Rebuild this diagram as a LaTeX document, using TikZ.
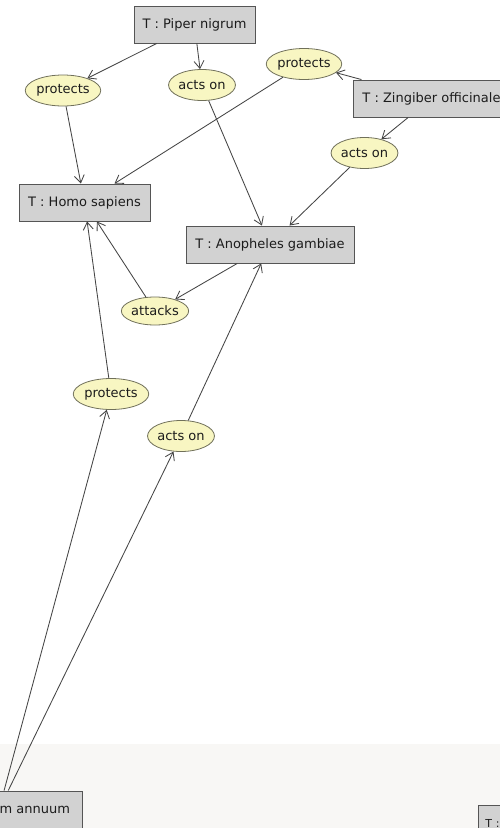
\documentclass[tikz,border=0pt]{standalone}
\usepackage{fontspec}
\setmainfont{DejaVu Sans}
\usetikzlibrary{shapes.geometric,arrows.meta}
\definecolor{termfill}{HTML}{D2D2D2}
\definecolor{termline}{HTML}{555555}
\definecolor{relfill}{HTML}{F8F6C2}
\definecolor{relline}{HTML}{70705A}
\definecolor{linkcol}{HTML}{454545}
\definecolor{panel}{HTML}{F8F7F5}
\definecolor{ink}{HTML}{1C1C1C}
\begin{document}
\begin{tikzpicture}[x=1pt,y=-1pt,
  term/.style={rectangle, draw=termline, fill=termfill, line width=0.9pt,
    minimum height=37pt, inner xsep=8pt, inner ysep=0pt, text=ink,
    font=\fontsize{13pt}{15pt}\selectfont},
  rel/.style={ellipse, draw=relline, fill=relfill, line width=0.8pt,
    minimum width=68pt, minimum height=31pt, inner sep=0pt, text=ink,
    font=\fontsize{13pt}{15pt}\selectfont},
  link/.style={draw=linkcol, line width=0.85pt,
    -{Straight Barb[length=7.5pt,width=10pt]}}]
  % canvas and lower panel
  \useasboundingbox (0,0) rectangle (500,828);
  \fill[white] (0,0) rectangle (500,828);
  \fill[panel] (0,744) rectangle (500,828);

  % terms
  \node[term, minimum width=121pt] (piper) at (194.5,24.5) {T : Piper nigrum};
  \node[term, anchor=west, inner xsep=9pt] (zing) at (353,98.5) {T : Zingiber officinale};
  \node[term, minimum width=131pt] (homo) at (84.5,202.5) {T : Homo sapiens};
  \node[term, minimum width=168pt] (anoph) at (270,244.5) {T : Anopheles gambiae};
  \node[term, minimum width=166pt] (caps) at (-1,809.5) {T : Capsicum annuum};
  \node[term, anchor=west, text width=140pt, align=left, inner xsep=7pt,
    font=\fontsize{11pt}{13pt}\selectfont] (other) at (478,823.5) {T :};

  % relations
  \node[rel, minimum width=70pt] (prot1) at (63,90.5) {protects};
  \node[rel, minimum width=64pt] (acts1) at (202,85) {acts on};
  \node[rel, minimum width=69pt] (prot2) at (304,64) {protects};
  \node[rel, minimum width=65pt] (acts2) at (364.5,153) {acts on};
  \node[rel, minimum width=64pt, minimum height=28pt] (att) at (155,311) {attacks};
  \node[rel, minimum width=70pt] (prot3) at (111,394) {protects};
  \node[rel, minimum width=64pt] (acts3) at (181,436) {acts on};

  % links
  \draw[link] (piper) -- (prot1);
  \draw[link] (prot1) -- (homo);
  \draw[link] (piper) -- (acts1);
  \draw[link] (acts1) -- (anoph);
  \draw[link] (zing) -- (prot2);
  \draw[link] (prot2) -- (homo);
  \draw[link] (zing) -- (acts2);
  \draw[link] (acts2) -- (anoph);
  \draw[link] (anoph) -- (att);
  \draw[link] (att) -- (homo);
  \draw[link] (caps) -- (prot3);
  \draw[link] (prot3) -- (homo);
  \draw[link] (caps) -- (acts3);
  \draw[link] (acts3) -- (anoph);
\end{tikzpicture}
\end{document}
